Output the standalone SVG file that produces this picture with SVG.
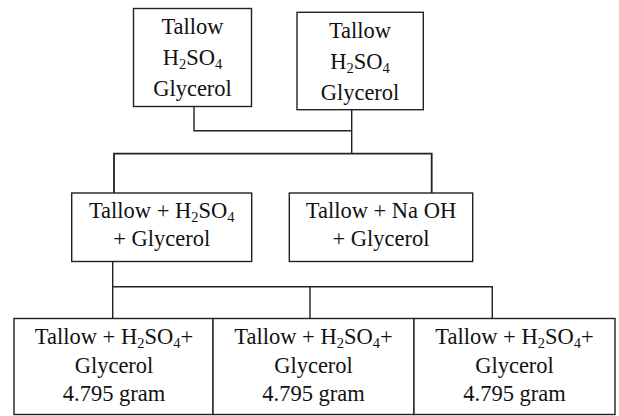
<svg xmlns="http://www.w3.org/2000/svg" width="619" height="416" viewBox="0 0 619 416">
<style>
  .box { fill: #fff; stroke: #222; stroke-width: 1.4; }
  text { font-family: 'Liberation Serif', 'Times New Roman', serif; font-size: 22.5px; fill: #111; text-anchor: middle; }
  .sub { font-size: 14.5px; }
  .conn { fill: none; stroke: #222; stroke-width: 1.4; }
</style>
<rect width="619" height="416" fill="#fff"/>
<g id="connectors">
  <polyline class="conn" points="194,106.5 194,130.7 351.7,130.7"/>
  <line class="conn" x1="351.7" y1="109.7" x2="351.7" y2="153.7"/>
  <polyline class="conn" points="114,193 114,153.7 431.7,153.7 431.7,193" style="stroke-width:1.8"/>
  <line class="conn" x1="112.7" y1="261.5" x2="112.7" y2="318.5"/>
  <polyline class="conn" points="112.7,286.7 492.3,286.7 492.3,318.5"/>
  <line class="conn" x1="310" y1="286.7" x2="310" y2="318.5"/>
</g>
<g id="n1">
  <rect class="box" x="133.5" y="8.5" width="118" height="98"/>
  <text x="192.5" y="34">Tallow</text>
  <text x="192.5" y="65">H<tspan class="sub" dy="4">2</tspan><tspan dy="-4">SO</tspan><tspan class="sub" dy="4">4</tspan></text>
  <text x="192.5" y="96">Glycerol</text>
</g>
<g id="n2">
  <rect class="box" x="297" y="12.3" width="126.3" height="97.4"/>
  <text x="360" y="38">Tallow</text>
  <text x="360" y="69">H<tspan class="sub" dy="4">2</tspan><tspan dy="-4">SO</tspan><tspan class="sub" dy="4">4</tspan></text>
  <text x="360" y="100">Glycerol</text>
</g>
<g id="n3">
  <rect class="box" x="71.7" y="193" width="180" height="68.5"/>
  <text x="161.7" y="218.3">Tallow + H<tspan class="sub" dy="4">2</tspan><tspan dy="-4">SO</tspan><tspan class="sub" dy="4">4</tspan></text>
  <text x="161.7" y="246">+ Glycerol</text>
</g>
<g id="n4">
  <rect class="box" x="289.3" y="193" width="183.4" height="68.5"/>
  <text x="381" y="218.3">Tallow + Na OH</text>
  <text x="381" y="246">+ Glycerol</text>
</g>
<g id="n5">
  <rect class="box" x="14" y="318.5" width="199" height="96"/>
  <text x="114" y="343.7">Tallow + H<tspan class="sub" dy="4">2</tspan><tspan dy="-4">SO</tspan><tspan class="sub" dy="4">4</tspan><tspan dy="-4">+</tspan></text>
  <text x="114" y="373">Glycerol</text>
  <text x="114" y="401">4.795 gram</text>
</g>
<g id="n6">
  <rect class="box" x="213" y="318.5" width="201" height="96"/>
  <text x="313.5" y="343.7">Tallow + H<tspan class="sub" dy="4">2</tspan><tspan dy="-4">SO</tspan><tspan class="sub" dy="4">4</tspan><tspan dy="-4">+</tspan></text>
  <text x="313.5" y="373">Glycerol</text>
  <text x="313.5" y="401">4.795 gram</text>
</g>
<g id="n7">
  <rect class="box" x="414" y="318.5" width="201" height="96"/>
  <text x="514.5" y="343.7">Tallow + H<tspan class="sub" dy="4">2</tspan><tspan dy="-4">SO</tspan><tspan class="sub" dy="4">4</tspan><tspan dy="-4">+</tspan></text>
  <text x="514.5" y="373">Glycerol</text>
  <text x="514.5" y="401">4.795 gram</text>
</g>
</svg>
